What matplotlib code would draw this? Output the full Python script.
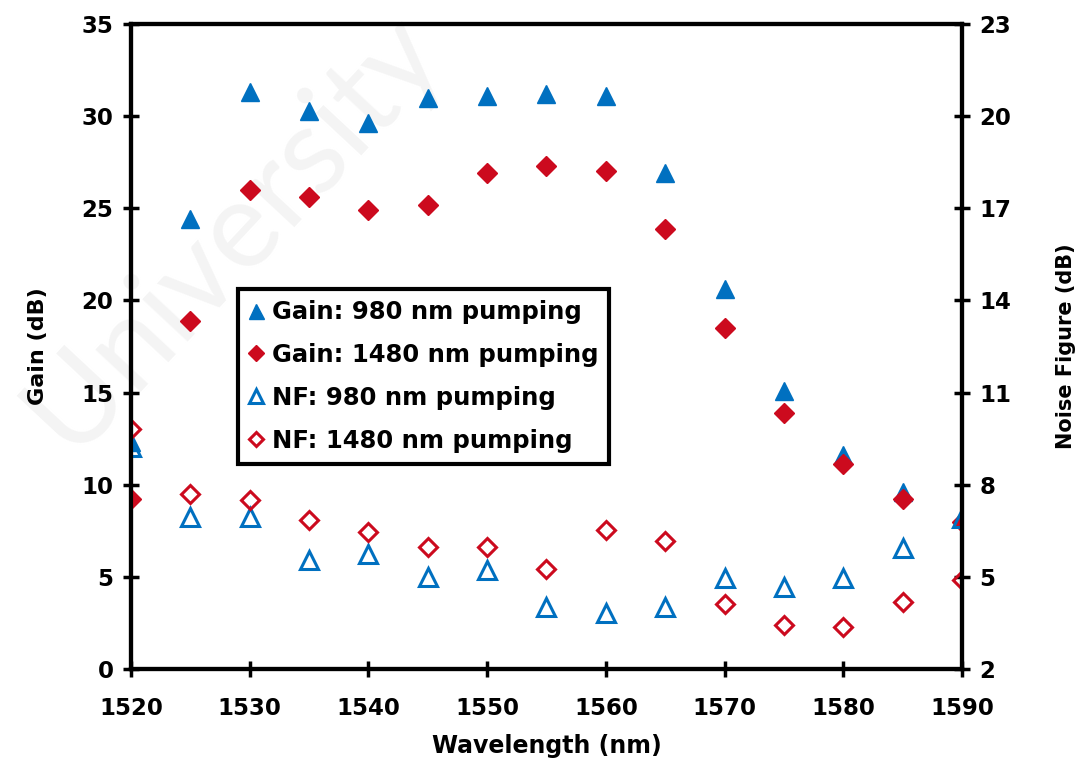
import matplotlib
matplotlib.use('Agg')
import matplotlib.pyplot as plt
import numpy as np

# wavelength grid (nm)
wavelength = [1520, 1525, 1530, 1535, 1540, 1545, 1550, 1555, 1560,
              1565, 1570, 1575, 1580, 1585, 1590]

# gain (dB), left axis
gain_980 = [12.3, 24.4, 31.3, 30.3, 29.6, 31.0, 31.1, 31.2, 31.1,
            26.9, 20.6, 15.1, 11.6, 9.6, 8.2]
gain_1480 = [9.25, 18.9, 26.0, 25.6, 24.9, 25.2, 26.9, 27.3, 27.0,
             23.85, 18.5, 13.9, 11.1, 9.25, 8.0]

# noise figure (dB), right axis
nf_980 = [9.24, 6.96, 6.94, 5.55, 5.74, 5.0, 5.22, 4.02, 3.83,
          4.03, 4.95, 4.68, 4.95, 5.93, 6.9]
nf_1480 = [9.8, 7.71, 7.49, 6.85, 6.47, 5.98, 5.96, 5.27, 6.52,
           6.18, 4.12, 3.43, 3.38, 4.19, 4.9]

gain_ticks = [0, 5, 10, 15, 20, 25, 30, 35]
nf_ticks = [2, 5, 8, 11, 14, 17, 20, 23]
x_ticks = [1520, 1530, 1540, 1550, 1560, 1570, 1580, 1590]

BLUE = '#0070C0'
RED = '#CC0A1E'

plt.rcParams['font.family'] = ['DejaVu Sans']
plt.rcParams['font.weight'] = 'bold'
plt.rcParams['axes.labelweight'] = 'bold'

fig = plt.figure(figsize=(10.86, 7.71), dpi=100)
ax = fig.add_axes([0.1206, 0.1323, 0.7652, 0.8366])
ax2 = ax.twinx()
ax.patch.set_alpha(0)

# faint watermark, drawn with the left axes so it sits under the markers
ax.text(0.215, 0.70, 'University', transform=fig.transFigure, fontsize=88,
        family='Lato', fontweight='normal', color='#f4f4f4', rotation=47,
        ha='center', va='center', zorder=0, clip_on=False)

h1, = ax.plot(wavelength, gain_980, '^', color=BLUE, ms=13.5, ls='none',
              label='Gain: 980 nm pumping', zorder=3)
h2, = ax.plot(wavelength, gain_1480, 'D', color=RED, ms=10, ls='none',
              label='Gain: 1480 nm pumping', zorder=3)
h3, = ax2.plot(wavelength, nf_980, '^', mfc='none', mec=BLUE, mew=2.2, ms=13,
               ls='none', label='NF: 980 nm pumping')
h4, = ax2.plot(wavelength, nf_1480, 'D', mfc='none', mec=RED, mew=2.2, ms=9.5,
               ls='none', label='NF: 1480 nm pumping')

ax.set_xlim(1520, 1590)
ax.set_ylim(0, 35)
ax2.set_ylim(2, 23)
ax.set_xticks(x_ticks)
ax.set_yticks(gain_ticks)
ax2.set_yticks(nf_ticks)

for a in (ax, ax2):
    for s in a.spines.values():
        s.set_linewidth(3)
    a.tick_params(direction='inout', length=11, width=2.5, labelsize=16.5, pad=7)
ax.tick_params(axis='x', pad=15)

ax.set_xlabel('Wavelength (nm)', fontsize=17, labelpad=10)
ax.set_ylabel('Gain (dB)', fontsize=16, labelpad=24)
ax2.set_ylabel('Noise Figure (dB)', fontsize=15, labelpad=32)

leg = ax2.legend(handles=[h1, h2, h3, h4], loc='upper left',
                 bbox_to_anchor=(0.1288, 0.589), fontsize=17.5,
                 frameon=True, fancybox=False, edgecolor='black',
                 markerscale=0.8, handlelength=0.6, handletextpad=0.35,
                 borderpad=0.45, labelspacing=0.78, borderaxespad=0)
leg.get_frame().set_linewidth(3)
leg.get_frame().set_alpha(1)

fig.savefig('out.png', dpi=100)
